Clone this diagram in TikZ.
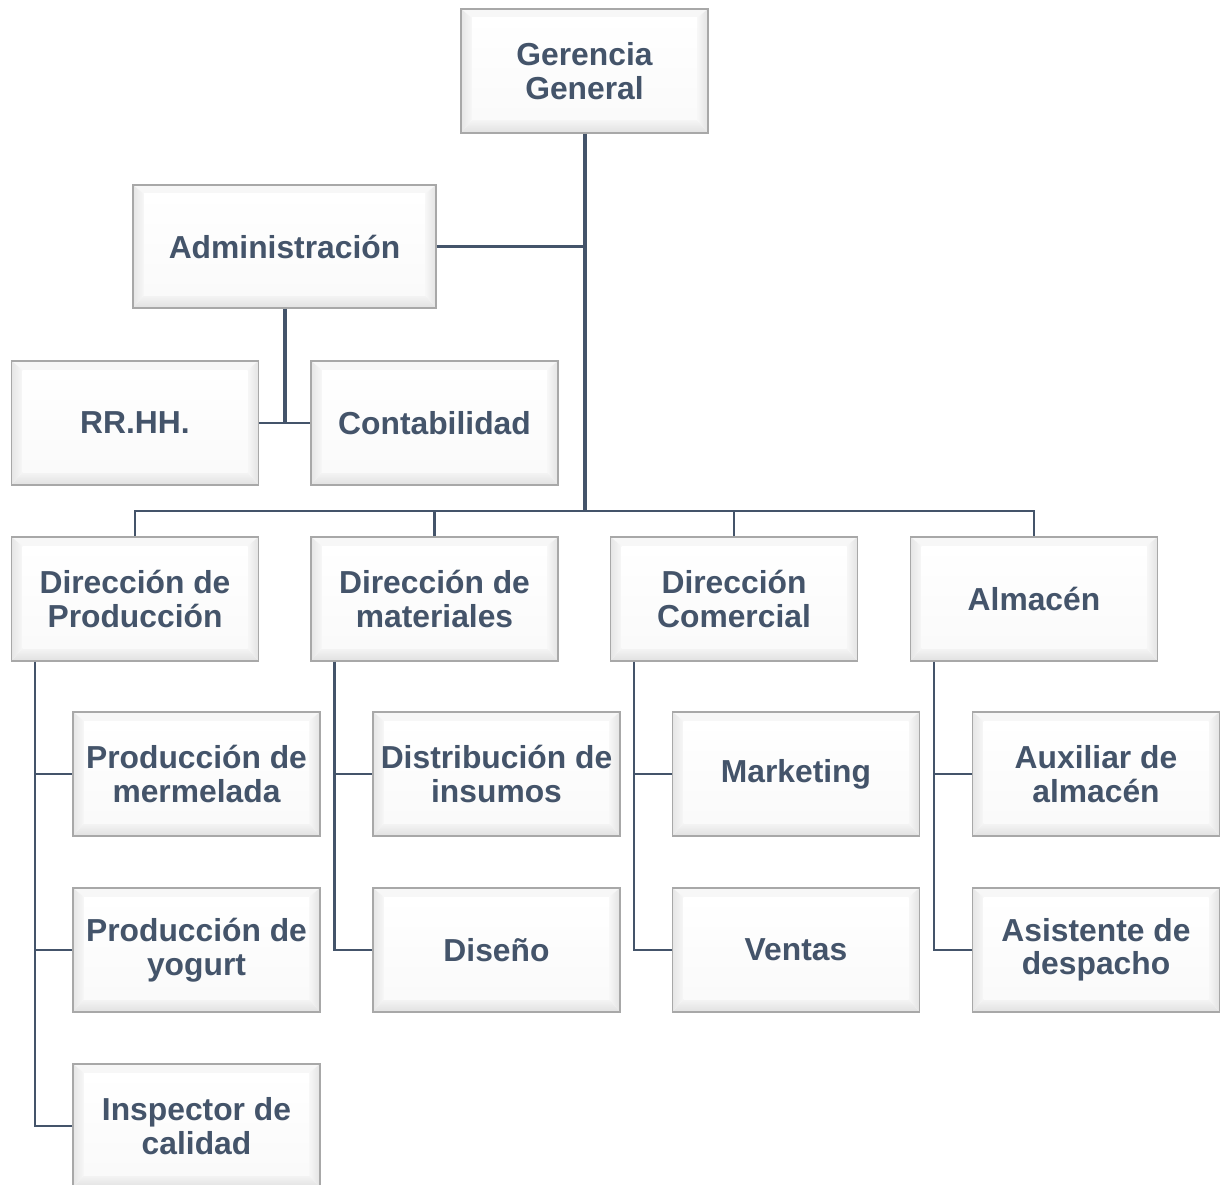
\documentclass[tikz,border=0pt]{standalone}
\usepackage{fontspec}
\setmainfont{Liberation Sans}
\usetikzlibrary{calc}
\definecolor{ink}{HTML}{44546A}
\definecolor{boxline}{HTML}{A8A8A8}
\newcommand{\labelfont}{\fontsize{31.8}{33.5}\selectfont\bfseries}
\tikzset{
  x=1pt, y=-1pt,
  unit/.style={draw=boxline, line width=1.2pt, fill=white,
    minimum width=247pt, minimum height=124pt, inner sep=0pt,
    align=center, font=\labelfont, text=ink,
    path picture={
      \coordinate (o1) at (path picture bounding box.north west);
      \coordinate (o2) at (path picture bounding box.north east);
      \coordinate (o3) at (path picture bounding box.south east);
      \coordinate (o4) at (path picture bounding box.south west);
      \coordinate (i1) at ($(o1)+(11pt,-9pt)$);
      \coordinate (i2) at ($(o2)+(-11pt,-9pt)$);
      \coordinate (i3) at ($(o3)+(-11pt,13pt)$);
      \coordinate (i4) at ($(o4)+(11pt,13pt)$);
      \fill[white!97!black] (o1) -- (o2) -- (i2) -- (i1) -- cycle;
      \shade[top color=white!96!black, bottom color=white!88!black]
        (o4) -- (o3) -- (i3) -- (i4) -- cycle;
      \shade[left color=white!90!black, right color=white!97!black]
        (o1) -- (i1) -- (i4) -- (o4) -- cycle;
      \shade[left color=white!97!black, right color=white!89!black]
        (o2) -- (i2) -- (i3) -- (o3) -- cycle;
      \shade[top color=white, bottom color=white!98!black]
        (i1) rectangle (i3);
    }},
  trunk/.style={draw=ink, line width=4pt},
  link/.style={draw=ink, line width=2.6pt},
  sublink/.style={draw=ink, line width=2.6pt},
}
\begin{document}
\begin{tikzpicture}
  \useasboundingbox (0,0) rectangle (1224,1185);

  % top of the hierarchy
  \node[unit] (gg)   at (584.5,71)  {Gerencia\\General};
  \node[unit, minimum width=303pt, minimum height=123pt] (adm) at (284.5,246.5) {Administración};
  \node[unit] (rh)   at (135,423)   {RR.HH.};
  \node[unit] (cont) at (434.5,423) {Contabilidad};

  % directions
  \node[unit] (d1) at (135,599)  {Dirección de\\Producción};
  \node[unit] (d2) at (434.5,599) {Dirección de\\materiales};
  \node[unit] (d3) at (734,599)  {Dirección\\Comercial};
  \node[unit] (d4) at (1034,599) {Almacén};

  % staff units
  \node[unit] (c11) at (196.5,774)  {Producción de\\mermelada};
  \node[unit] (c12) at (196.5,950)  {Producción de\\yogurt};
  \node[unit] (c13) at (196.5,1126) {Inspector de\\calidad};
  \node[unit] (c21) at (496.5,774)  {Distribución de\\insumos};
  \node[unit] (c22) at (496.5,950)  {Diseño};
  \node[unit] (c31) at (796,774)    {Marketing};
  \node[unit] (c32) at (796,950)    {Ventas};
  \node[unit] (c41) at (1096,774)   {Auxiliar de\\almacén};
  \node[unit] (c42) at (1096,950)   {Asistente de\\despacho};

  % main trunk and bus
  \coordinate (bus) at (0,511);
  \draw[link] (adm.east) -- (adm.east -| gg.south);
  \draw[link] (rh.east) -- (cont.west);
  \draw[sublink] (d1.north) -- (d1.north |- bus) -- (d4.north |- bus) -- (d4.north);
  \draw[sublink] (d2.north) -- (d2.north |- bus);
  \draw[sublink] (d3.north) -- (d3.north |- bus);
  \draw[trunk] (gg.south) -- (gg.south |- bus);
  \draw[trunk] (adm.south) -- (adm.south |- rh.east);

  % spines to staff units
  \draw[sublink] ([xshift=24pt]d1.south west) |- (c13.west);
  \draw[sublink] ([xshift=24pt]d1.south west |- c11.west) -- (c11.west);
  \draw[sublink] ([xshift=24pt]d1.south west |- c12.west) -- (c12.west);
  \draw[sublink] ([xshift=24pt]d2.south west) |- (c22.west);
  \draw[sublink] ([xshift=24pt]d2.south west |- c21.west) -- (c21.west);
  \draw[sublink] ([xshift=24pt]d3.south west) |- (c32.west);
  \draw[sublink] ([xshift=24pt]d3.south west |- c31.west) -- (c31.west);
  \draw[sublink] ([xshift=24pt]d4.south west) |- (c42.west);
  \draw[sublink] ([xshift=24pt]d4.south west |- c41.west) -- (c41.west);
\end{tikzpicture}
\end{document}
